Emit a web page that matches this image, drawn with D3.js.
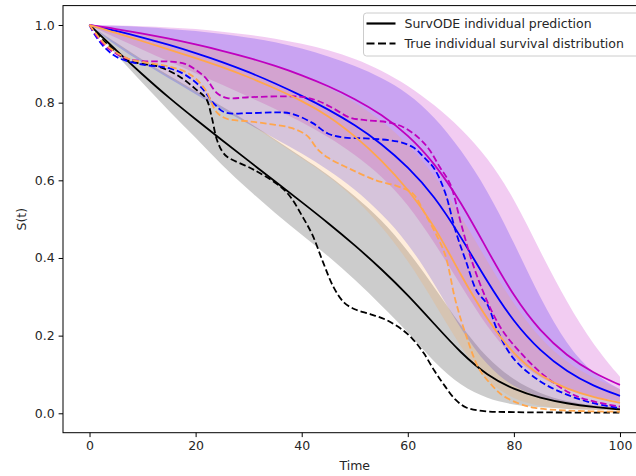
<!DOCTYPE html>
<html><head><meta charset="utf-8">
<script src="https://cdn.jsdelivr.net/npm/d3@7"></script>
<style>
body{margin:0;background:#fff}
svg{display:block;font-family:"DejaVu Sans",sans-serif}
</style>
</head><body>
<svg id="chart" width="636" height="476"></svg>
<script>
// Shared time grid for the model predictions and their uncertainty bands
const gridT = [0,5,10,15,20,25,30,35,40,45,50,55,60,65,70,75,80,85,90,95,100];

// SurvODE predictions (solid lines)
const predBlack   = [1.0,0.935,0.872,0.812,0.757,0.703,0.65,0.597,0.544,0.49,0.433,0.372,0.305,0.23,0.155,0.097,0.061,0.039,0.025,0.016,0.01];
const predBlue    = [1.0,0.985,0.968,0.949,0.928,0.905,0.879,0.85,0.818,0.783,0.743,0.695,0.635,0.56,0.455,0.338,0.234,0.16,0.107,0.07,0.045];
const predMagenta = [1.0,0.99,0.978,0.965,0.95,0.934,0.916,0.895,0.871,0.843,0.81,0.77,0.718,0.645,0.545,0.42,0.3,0.21,0.148,0.103,0.073];
const predOrange  = [1.0,0.98,0.958,0.937,0.915,0.892,0.866,0.837,0.805,0.767,0.715,0.653,0.578,0.485,0.355,0.24,0.15,0.095,0.062,0.041,0.027];

// Uncertainty bands (upper / lower)
const bandBlackHi   = [1.0,0.955,0.91,0.87,0.83,0.79,0.75,0.705,0.66,0.615,0.56,0.5,0.42,0.325,0.225,0.14,0.085,0.05,0.03,0.02,0.014];
const bandBlackLo   = [1.0,0.925,0.85,0.778,0.71,0.638,0.575,0.515,0.46,0.405,0.345,0.278,0.21,0.13,0.07,0.037,0.021,0.015,0.011,0.009,0.008];
const bandBlueHi    = [1.0,0.998,0.995,0.99,0.985,0.977,0.968,0.956,0.94,0.92,0.895,0.865,0.825,0.765,0.68,0.575,0.44,0.295,0.175,0.1,0.062];
const bandBlueLo    = [1.0,0.945,0.903,0.862,0.822,0.782,0.745,0.707,0.67,0.627,0.578,0.515,0.44,0.335,0.215,0.12,0.066,0.04,0.025,0.017,0.012];
const bandMagentaHi = [1.0,0.999,0.997,0.994,0.99,0.983,0.975,0.965,0.952,0.936,0.914,0.884,0.845,0.795,0.735,0.66,0.555,0.415,0.285,0.175,0.094];
const bandMagentaLo = [1.0,0.967,0.936,0.906,0.876,0.846,0.815,0.784,0.75,0.712,0.667,0.612,0.54,0.44,0.33,0.22,0.14,0.09,0.06,0.042,0.03];
const bandOrangeHi  = [1.0,0.99,0.98,0.967,0.952,0.935,0.915,0.894,0.87,0.84,0.802,0.755,0.695,0.615,0.51,0.39,0.28,0.19,0.13,0.09,0.062];
const bandOrangeLo  = [1.0,0.952,0.907,0.867,0.827,0.787,0.747,0.702,0.657,0.612,0.555,0.483,0.395,0.285,0.168,0.08,0.035,0.018,0.011,0.008,0.006];

// True individual survival distributions (dashed lines)
const trueBlackT = [0,3,7,10,13,17,20,22,23,24,25,26,31,36,38,40,42,44,46,48,50,53,56,59,61,63,65,67,69,71,74,80,90,100];
const trueBlackS = [1.0,0.955,0.91,0.9,0.893,0.867,0.835,0.81,0.765,0.705,0.675,0.66,0.627,0.584,0.555,0.51,0.46,0.39,0.325,0.285,0.268,0.255,0.24,0.215,0.19,0.155,0.11,0.07,0.035,0.015,0.006,0.003,0.002,0.002];
const trueBlueT = [0,1,3,5.5,10,15,18,21,23.5,25.5,30,35,38,42,45,48,52,58,61,63,65,67,69,71,73,75,77,80,85,90,95,100];
const trueBlueS = [1.0,0.975,0.94,0.915,0.898,0.889,0.872,0.84,0.797,0.775,0.773,0.775,0.772,0.748,0.72,0.71,0.708,0.7,0.685,0.66,0.63,0.57,0.47,0.39,0.315,0.28,0.21,0.14,0.082,0.048,0.026,0.013];
const trueMagentaT = [0,2,4,7,10,15,18,20,22,24,26,30,35,40,43,46,49,52,56,59,62,64,66,68,70,72,74,76,78,81,86,92,100];
const trueMagentaS = [1.0,0.96,0.935,0.914,0.907,0.906,0.9,0.885,0.862,0.825,0.812,0.814,0.816,0.815,0.805,0.785,0.762,0.755,0.75,0.738,0.71,0.68,0.635,0.59,0.49,0.395,0.32,0.258,0.21,0.16,0.094,0.043,0.017];
const trueOrangeT = [0,3,7,10,15,18,20,22,24,26,30,34,38,41,43,45,49,54,58,61,63,65,67,69,71,73.5,76,78,81,84,90,100];
const trueOrangeS = [1.0,0.95,0.915,0.905,0.893,0.88,0.862,0.83,0.775,0.758,0.752,0.745,0.735,0.715,0.68,0.658,0.63,0.6,0.585,0.565,0.52,0.47,0.41,0.29,0.2,0.113,0.07,0.045,0.025,0.014,0.007,0.004];

const xTicks = [0,20,40,60,80,100];
const yTicks = [0.0,0.2,0.4,0.6,0.8,1.0];
const legendLabels = ["SurvODE individual prediction","True individual survival distribution"];

const colors = {black:"#000000", blue:"#0000ff", magenta:"#bf00bf", orange:"#ffa64d"};

const individuals = [
  {color:colors.black,   pred:predBlack,   hi:bandBlackHi,   lo:bandBlackLo,   tT:trueBlackT,   tS:trueBlackS},
  {color:colors.blue,    pred:predBlue,    hi:bandBlueHi,    lo:bandBlueLo,    tT:trueBlueT,    tS:trueBlueS},
  {color:colors.magenta, pred:predMagenta, hi:bandMagentaHi, lo:bandMagentaLo, tT:trueMagentaT, tS:trueMagentaS},
  {color:colors.orange,  pred:predOrange,  hi:bandOrangeHi,  lo:bandOrangeLo,  tT:trueOrangeT,  tS:trueOrangeS}
];

const svg = d3.select("#chart");
const plot = {left:63, right:646.5, top:5.6, bottom:432.7};

const x = d3.scaleLinear().domain([-5,105]).range([plot.left, plot.right]);
const y = d3.scaleLinear().domain([-0.05,1.05]).range([plot.bottom, plot.top]);

svg.append("defs").append("clipPath").attr("id","plotClip")
  .append("rect").attr("x",plot.left).attr("y",plot.top)
  .attr("width",plot.right-plot.left).attr("height",plot.bottom-plot.top);

const g = svg.append("g").attr("clip-path","url(#plotClip)");

// smooth model outputs; true curves pass through their sampled points
const area = d3.area().curve(d3.curveBasis)
  .x(d => x(d.t)).y0(d => y(d.lo)).y1(d => y(d.hi));
const smoothLine = d3.line().curve(d3.curveBasis)
  .x(d => x(d.t)).y(d => y(d.s));
const trueLine = d3.line().curve(d3.curveCatmullRom.alpha(0.5))
  .x(d => x(d.t)).y(d => y(d.s));

// bands
individuals.forEach(ind => {
  const rows = gridT.map((t,i) => ({t, lo:ind.lo[i], hi:ind.hi[i]}));
  g.append("path").attr("d", area(rows))
    .attr("fill", ind.color).attr("fill-opacity", 0.2).attr("stroke","none");
});

// predictions and true curves
individuals.forEach(ind => {
  const p = gridT.map((t,i) => ({t, s:ind.pred[i]}));
  g.append("path").attr("d", smoothLine(p))
    .attr("fill","none").attr("stroke", ind.color).attr("stroke-width",1.8);
  const q = ind.tT.map((t,i) => ({t, s:ind.tS[i]}));
  g.append("path").attr("d", trueLine(q))
    .attr("fill","none").attr("stroke", ind.color).attr("stroke-width",1.8)
    .attr("stroke-dasharray","6.5,3");
});

// axes
const textColor = "#262626";
const xAxis = svg.append("g").attr("transform",`translate(0,${plot.bottom})`)
  .call(d3.axisBottom(x).tickValues(xTicks).tickFormat(d3.format("d")).tickSize(4.4).tickPadding(4).tickSizeOuter(0));
const yAxis = svg.append("g").attr("transform",`translate(${plot.left},0)`)
  .call(d3.axisLeft(y).tickValues(yTicks).tickFormat(d3.format(".1f")).tickSize(4.4).tickPadding(4).tickSizeOuter(0));
[xAxis,yAxis].forEach(a => {
  a.select(".domain").remove();
  a.selectAll("line").attr("stroke","#000").attr("stroke-width",1);
  a.selectAll("text").attr("fill",textColor).style("font-size","12.5px").style("font-family","DejaVu Sans, sans-serif");
});

// spines
svg.append("rect").attr("x",plot.left).attr("y",plot.top)
  .attr("width",plot.right-plot.left).attr("height",plot.bottom-plot.top)
  .attr("fill","none").attr("stroke","#000").attr("stroke-width",1);

svg.append("text").attr("x",(plot.left+plot.right)/2).attr("y",470)
  .attr("text-anchor","middle").attr("fill",textColor).style("font-size","12.5px").text("Time");
svg.append("text").attr("transform",`translate(26,${(plot.top+plot.bottom)/2}) rotate(-90)`)
  .attr("text-anchor","middle").attr("fill",textColor).style("font-size","12.5px").text("S(t)");

// legend
const lg = svg.append("g").attr("transform","translate(363.5,13)");
lg.append("rect").attr("width",300).attr("height",43).attr("rx",3)
  .attr("fill","#fff").attr("fill-opacity",0.8).attr("stroke","#cccccc").attr("stroke-width",1);
legendLabels.forEach((lab,i) => {
  const yy = 10.5 + i*20;
  lg.append("line").attr("x1",3).attr("x2",32).attr("y1",yy).attr("y2",yy)
    .attr("stroke","#000").attr("stroke-width",2.2)
    .attr("stroke-dasharray", i===1 ? "8,3.5" : null);
  lg.append("text").attr("x",41).attr("y",yy).attr("dy","0.35em")
    .attr("fill",textColor).style("font-size","12.5px").text(lab);
});
</script>
</body></html>
